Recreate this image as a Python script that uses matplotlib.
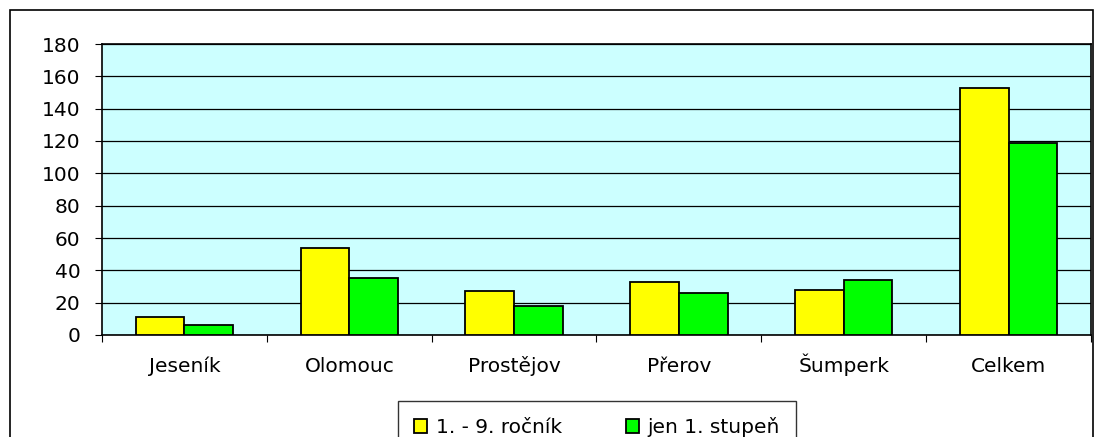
import matplotlib.pyplot as plt
from matplotlib.patches import Rectangle
import numpy as np

plt.rcParams['font.family'] = ['DejaVu Sans']

okresy = ['Jeseník', 'Olomouc', 'Prostějov', 'Přerov', 'Šumperk', 'Celkem']
rocnik_1_9 = [11, 54, 27, 33, 28, 153]
stupen_1 = [6, 35, 18, 26, 34, 119]
legenda = ['1. - 9. ročník', 'jen 1. stupeň']

W, H = 1098, 437
fig = plt.figure(figsize=(W / 100, H / 100), dpi=100)

# outer chart frame (bottom edge cut off)
fig.add_artist(Rectangle((10 / W, -0.05), 1083 / W, 1.05 - 10 / H,
                         transform=fig.transFigure, fill=False,
                         edgecolor='black', linewidth=1.2))

ax = fig.add_axes([102 / W, 1 - 335 / H, 989 / W, 291 / H])
ax.set_facecolor('#CCFFFF')

x = np.arange(len(okresy))
w = 0.295
ax.bar(x - w / 2, rocnik_1_9, w, color='#FFFF00', edgecolor='black',
       linewidth=1.3, label=legenda[0], zorder=3)
ax.bar(x + w / 2, stupen_1, w, color='#00FF00', edgecolor='black',
       linewidth=1.3, label=legenda[1], zorder=3)

ax.set_xlim(-0.5, len(okresy) - 0.5)
ax.set_ylim(0, 180)
ax.set_yticks(range(0, 181, 20))
ax.yaxis.grid(True, color='black', linewidth=0.9)
ax.set_axisbelow(True)

ax.set_xticks(np.arange(-0.5, len(okresy), 1))
ax.set_xticklabels([])
ax.set_xticks(x, minor=True)
ax.set_xticklabels(okresy, minor=True)
ax.tick_params(axis='x', which='minor', length=0, pad=26.5, labelsize=14.5)
for lbl in ax.get_xticklabels(minor=True):
    lbl.set_verticalalignment('baseline')
ax.tick_params(axis='x', which='major', length=5, direction='out')
ax.tick_params(axis='y', length=5, direction='out', labelsize=14.5, pad=10.5)
for s in ax.spines.values():
    s.set_linewidth(1.2)

leg = fig.legend(loc='lower center', bbox_to_anchor=(597 / W, -16 / H),
                 ncol=2, frameon=True, fancybox=False, edgecolor='black',
                 fontsize=14.5, handlelength=0.65, handleheight=0.65,
                 columnspacing=3.2, borderpad=0.8, handletextpad=0.4,
                 borderaxespad=0)
leg.get_frame().set_linewidth(1.0)

fig.savefig('out.png', dpi=100)
